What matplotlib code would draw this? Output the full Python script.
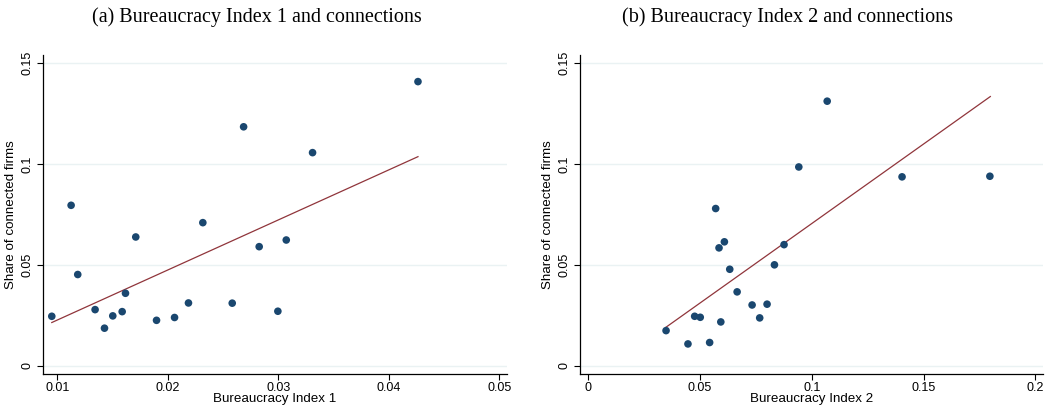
import numpy as np
import matplotlib
matplotlib.use("Agg")
import matplotlib.pyplot as plt

# Panel (a): Bureaucracy Index 1 vs share of connected firms
idx1 = [0.00949, 0.01124, 0.01184, 0.01341, 0.01426, 0.01501, 0.01586, 0.01616,
        0.01709, 0.01897, 0.02060, 0.02186, 0.02316, 0.02582, 0.02685, 0.02826,
        0.02995, 0.03071, 0.03309, 0.04263]
share1 = [0.0246, 0.0796, 0.0453, 0.0279, 0.0187, 0.0248, 0.0269, 0.0360,
          0.0639, 0.0226, 0.0240, 0.0312, 0.0710, 0.0311, 0.1185, 0.0591,
          0.0271, 0.0624, 0.1057, 0.1409]
fit1_x = [0.00949, 0.04263]
fit1_y = [0.0215, 0.1037]

# Panel (b): Bureaucracy Index 2 vs share of connected firms
idx2 = [0.0348, 0.0446, 0.0476, 0.0501, 0.0543, 0.0570, 0.0585, 0.0593,
        0.0609, 0.0633, 0.0666, 0.0733, 0.0767, 0.0800, 0.0833, 0.0876,
        0.0942, 0.1069, 0.1404, 0.1797]
share2 = [0.0175, 0.0109, 0.0246, 0.0241, 0.0116, 0.0780, 0.0585, 0.0218,
          0.0615, 0.0479, 0.0367, 0.0302, 0.0238, 0.0306, 0.0501, 0.0601,
          0.0986, 0.1312, 0.0937, 0.0940]
fit2_x = [0.0348, 0.1799]
fit2_y = [0.0192, 0.1335]

yticks = [0, 0.05, 0.1, 0.15]
ytick_labels = ["0", "0.05", "0.1", "0.15"]
xticks1 = [0.01, 0.02, 0.03, 0.04, 0.05]
xtick_labels1 = ["0.01", "0.02", "0.03", "0.04", "0.05"]
xticks2 = [0, 0.05, 0.1, 0.15, 0.2]
xtick_labels2 = ["0", "0.05", "0.1", "0.15", "0.2"]

navy = "#1a476f"
maroon = "#90353b"
grid_col = "#eaf2f3"

plt.rcParams["font.family"] = ["Liberation Sans", "DejaVu Sans"]

fig = plt.figure(figsize=(10.5, 4.09), dpi=100)
ax1 = fig.add_axes([0.041, 0.0856, 0.442, 0.780])
ax2 = fig.add_axes([0.5524, 0.0856, 0.441, 0.780])


def style(ax, x, y, fx, fy, xticks, xlabels, xlim, xlabel):
    ax.set_axisbelow(True)
    for yt in yticks:
        ax.axhline(yt, color=grid_col, lw=1.0, zorder=0)
    ax.plot(fx, fy, color=maroon, lw=0.9, zorder=2)
    ax.scatter(x, y, s=30, color=navy, edgecolors="none", zorder=3)
    ax.set_xlim(*xlim)
    ax.set_ylim(-0.004, 0.1541)
    ax.set_xticks(xticks)
    ax.set_xticklabels(xlabels)
    ax.set_yticks(yticks)
    ax.set_yticklabels(ytick_labels, rotation=90, va="center")
    ax.tick_params(axis="both", length=4, width=0.8, labelsize=9, pad=3)
    ax.tick_params(axis="x", pad=2)
    ax.spines["top"].set_visible(False)
    ax.spines["right"].set_visible(False)
    ax.spines["left"].set_linewidth(0.9)
    ax.spines["bottom"].set_linewidth(0.9)
    ax.set_xlabel(xlabel, fontsize=9.6, labelpad=-1)
    ax.set_ylabel("Share of connected firms", fontsize=9.6, labelpad=3)


style(ax1, idx1, share1, fit1_x, fit1_y, xticks1, xtick_labels1,
      (0.0087, 0.0507), "Bureaucracy Index 1")
style(ax2, idx2, share2, fit2_x, fit2_y, xticks2, xtick_labels2,
      (-0.0037, 0.2035), "Bureaucracy Index 2")

serif = ["Liberation Serif", "DejaVu Serif"]
fig.text(257 / 1050, 1 - 17 / 409, "(a) Bureaucracy Index 1 and connections",
         fontsize=14.5, family=serif, ha="center", va="center")
fig.text(787 / 1050, 1 - 17 / 409, "(b) Bureaucracy Index 2 and connections",
         fontsize=14.5, family=serif, ha="center", va="center")

fig.savefig("out.png", dpi=100)
